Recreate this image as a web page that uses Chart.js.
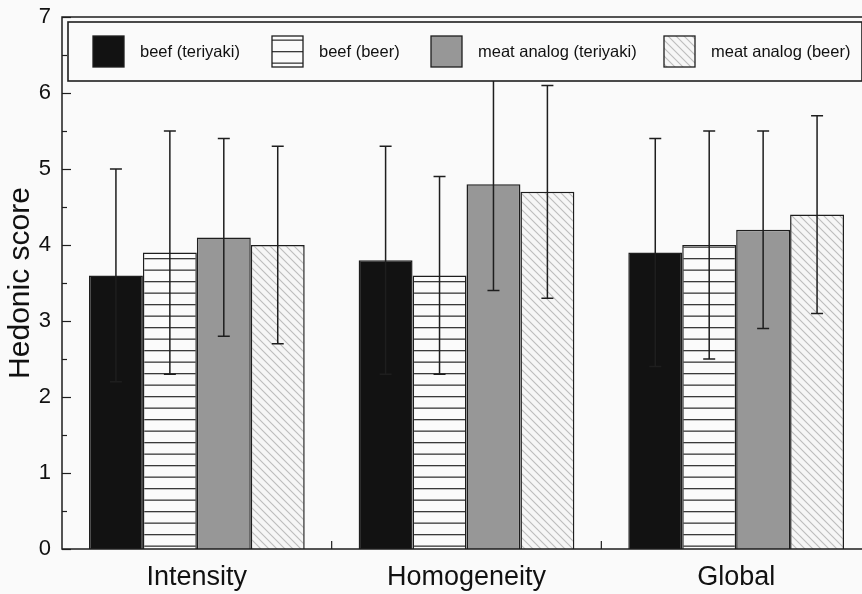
<!DOCTYPE html>
<html>
<head>
<meta charset="utf-8">
<script src="https://cdn.jsdelivr.net/npm/chart.js@4.4.1/dist/chart.umd.min.js"></script>
<style>
  html, body { margin: 0; padding: 0; background: #fafafa; overflow: hidden; }
  #wrap { width: 871px; height: 594px; position: relative; }
</style>
</head>
<body>
<div id="wrap"><canvas id="c"></canvas></div>
<script>
// ---- data ----
const categories = ['Intensity', 'Homogeneity', 'Global'];
const seriesLabels = ['beef (teriyaki)', 'beef (beer)', 'meat analog (teriyaki)', 'meat analog (beer)'];
const beefTeriyaki = [3.6, 3.8, 3.9];
const beefTeriyakiSD = [1.4, 1.5, 1.5];
const beefBeer = [3.9, 3.6, 4.0];
const beefBeerSD = [1.6, 1.3, 1.5];
const analogTeriyaki = [4.1, 4.8, 4.2];
const analogTeriyakiSD = [1.3, 1.4, 1.3];
const analogBeer = [4.0, 4.7, 4.4];
const analogBeerSD = [1.3, 1.4, 1.3];
const yTicks = [0, 1, 2, 3, 4, 5, 6, 7];
const yMinorStep = 0.5;

const FONT = '"Liberation Sans", Arial, Helvetica, sans-serif';
const INK = '#1e1e1e';

// ---- patterns ----
function horizPattern() {
  const c = document.createElement('canvas');
  c.width = 8; c.height = 23;
  const g = c.getContext('2d');
  g.fillStyle = '#fbfbfb'; g.fillRect(0, 0, 8, 23);
  g.fillStyle = '#3a3a3a';
  g.fillRect(0, 5, 8, 1.3);
  g.fillRect(0, 16.5, 8, 1.3);
  return g.createPattern(c, 'repeat');
}
function hatchPattern() {
  const s = 8;
  const c = document.createElement('canvas');
  c.width = s; c.height = s;
  const g = c.getContext('2d');
  g.fillStyle = '#f6f6f6'; g.fillRect(0, 0, s, s);
  g.strokeStyle = '#bcbcbc'; g.lineWidth = 1.1;
  g.beginPath();
  g.moveTo(-1, -1); g.lineTo(s + 1, s + 1);
  g.moveTo(-1, s - 1); g.lineTo(1, s + 1);
  g.moveTo(s - 1, -1); g.lineTo(s + 1, 1);
  g.stroke();
  return g.createPattern(c, 'repeat');
}
const fills = ['#121212', horizPattern(), '#979797', hatchPattern()];

const values = [beefTeriyaki, beefBeer, analogTeriyaki, analogBeer];
const sds = [beefTeriyakiSD, beefBeerSD, analogTeriyakiSD, analogBeerSD];

const datasets = values.map((v, i) => ({
  label: seriesLabels[i],
  data: v,
  sd: sds[i],
  backgroundColor: fills[i],
  borderColor: INK,
  borderWidth: 1.5,
  categoryPercentage: 0.8,
  barPercentage: 1.0
}));

// ---- custom drawing plugin ----
const decor = {
  id: 'decor',
  beforeDraw(chart) {
    const { ctx, width, height } = chart;
    ctx.save();
    ctx.fillStyle = '#fafafa';
    ctx.fillRect(0, 0, width, height);
    ctx.restore();
  },
  afterDatasetsDraw(chart) {
    const { ctx } = chart;
    const ys = chart.scales.y;
    ctx.save();
    ctx.strokeStyle = INK;
    ctx.lineWidth = 1.5;
    chart.data.datasets.forEach((ds, i) => {
      const meta = chart.getDatasetMeta(i);
      meta.data.forEach((bar, j) => {
        const v = ds.data[j], e = ds.sd[j];
        const yt = ys.getPixelForValue(v + e);
        const yb = ys.getPixelForValue(v - e);
        const x = bar.x;
        ctx.beginPath();
        ctx.moveTo(x, yt); ctx.lineTo(x, yb);
        ctx.moveTo(x - 6, yt); ctx.lineTo(x + 6, yt);
        ctx.moveTo(x - 6, yb); ctx.lineTo(x + 6, yb);
        ctx.stroke();
      });
    });
    ctx.restore();
  },
  afterDraw(chart) {
    const { ctx, chartArea: a } = chart;
    const ys = chart.scales.y, xs = chart.scales.x;
    ctx.save();
    ctx.strokeStyle = INK;
    ctx.lineWidth = 1.5;
    // frame
    ctx.beginPath();
    ctx.moveTo(a.right + 2, a.top); ctx.lineTo(a.left, a.top);
    ctx.lineTo(a.left, a.bottom); ctx.lineTo(a.right + 2, a.bottom);
    ctx.stroke();
    // y ticks (inside)
    ctx.lineWidth = 1.2;
    const yMax = yTicks[yTicks.length - 1];
    for (let v = yTicks[0]; v <= yMax + 1e-9; v += yMinorStep) {
      const y = Math.round(ys.getPixelForValue(v)) + 0.5;
      const major = Math.abs(v - Math.round(v)) < 1e-9;
      ctx.beginPath();
      ctx.moveTo(a.left, y); ctx.lineTo(a.left + (major ? 9 : 5), y);
      ctx.stroke();
    }
    // x ticks at category boundaries
    for (let i = 0; i < categories.length - 1; i++) {
      const x = (xs.getPixelForValue(i) + xs.getPixelForValue(i + 1)) / 2;
      ctx.beginPath();
      ctx.moveTo(x, a.bottom); ctx.lineTo(x, a.bottom - 8);
      ctx.stroke();
    }
    // legend box
    const L = { x: 68, y: 22, w: 794, h: 59 };
    ctx.fillStyle = '#fafafa';
    ctx.fillRect(L.x, L.y, L.w, L.h);
    ctx.lineWidth = 1.6;
    ctx.strokeRect(L.x, L.y, L.w, L.h);
    const swX = [93, 272, 431, 664];
    const sw = 31;
    const swY = 36;
    ctx.font = '16.5px ' + FONT;
    ctx.textBaseline = 'middle';
    ctx.textAlign = 'left';
    chart.data.datasets.forEach((ds, i) => {
      ctx.fillStyle = ds.backgroundColor;
      ctx.fillRect(swX[i], swY, sw, sw);
      ctx.lineWidth = 1.3;
      ctx.strokeStyle = INK;
      ctx.strokeRect(swX[i], swY, sw, sw);
      ctx.fillStyle = '#111';
      ctx.fillText(ds.label, swX[i] + 47, swY + sw / 2 + 1);
    });
    ctx.restore();
  }
};

new Chart(document.getElementById('c'), {
  type: 'bar',
  data: { labels: categories, datasets },
  options: {
    responsive: true,
    maintainAspectRatio: false,
    animation: false,
    layout: { autoPadding: false, padding: { top: 17, right: 0, left: 0, bottom: 0 } },
    plugins: { legend: { display: false }, tooltip: { enabled: false } },
    scales: {
      x: {
        grid: { display: false, drawTicks: false },
        border: { display: false },
        ticks: { color: '#111', padding: 12, font: { family: FONT, size: 27 } },
        afterFit(s) { s.height = 45; s.paddingLeft = 0; s.paddingRight = 0; }
      },
      y: {
        min: yTicks[0],
        max: yTicks[yTicks.length - 1],
        grid: { display: false, drawTicks: false },
        border: { display: false },
        ticks: {
          stepSize: 1,
          color: '#111',
          padding: 11,
          font: { family: FONT, size: 22 }
        },
        title: {
          display: true,
          text: 'Hedonic score',
          color: '#111',
          font: { family: FONT, size: 30 },
          padding: { top: 3, bottom: 0 }
        },
        afterFit(s) { s.width = 62; s.paddingTop = 0; s.paddingBottom = 0; }
      }
    }
  },
  plugins: [decor]
});
</script>
</body>
</html>
